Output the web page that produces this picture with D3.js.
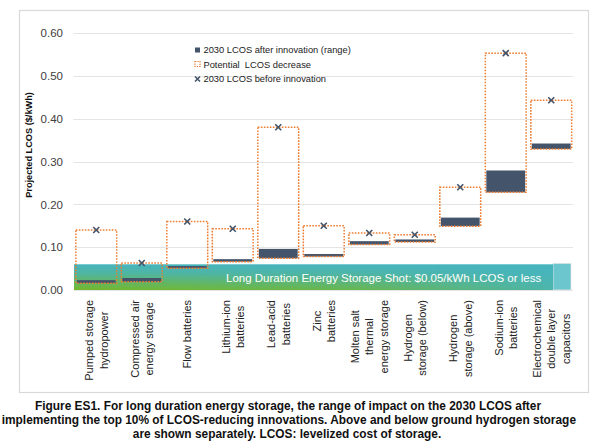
<!DOCTYPE html>
<html><head><meta charset="utf-8">
<script src="https://cdn.jsdelivr.net/npm/d3@7"></script>
<style>html,body{margin:0;padding:0;background:#fff;}svg{display:block;font-family:"Liberation Sans",Arial,sans-serif;}</style>
</head><body>
<svg id="c" width="600" height="441"></svg>
<script>
const categories = [
  ["Pumped storage","hydropower"],
  ["Compressed air","energy storage"],
  ["Flow batteries"],
  ["Lithium-ion","batteries"],
  ["Lead-acid","batteries"],
  ["Zinc","batteries"],
  ["Molten salt","thermal","energy storage"],
  ["Hydrogen","storage (below)"],
  ["Hydrogen","storage (above)"],
  ["Sodium-ion","batteries"],
  ["Electrochemical","double layer","capacitors"]
];
const beforeInnovation = [0.140, 0.063, 0.160, 0.143, 0.380, 0.150, 0.133, 0.129, 0.240, 0.553, 0.443];
const afterLow  = [0.016, 0.019, 0.051, 0.066, 0.074, 0.078, 0.106, 0.112, 0.149, 0.228, 0.329];
const afterHigh = [0.023, 0.028, 0.056, 0.072, 0.096, 0.084, 0.114, 0.118, 0.169, 0.279, 0.342];
const yTicks = [0, 0.1, 0.2, 0.3, 0.4, 0.5, 0.6];
const shotTarget = 0.06;
const legendLabels = ["2030 LCOS after innovation (range)", "Potential  LCOS decrease", "2030 LCOS before innovation"];
const captionLines = [
  "Figure ES1. For long duration energy storage, the range of impact on the 2030 LCOS after",
  "implementing the top 10% of LCOS-reducing innovations. Above and below ground hydrogen storage",
  "are shown separately. LCOS: levelized cost of storage."
];
const bandText = "Long Duration Energy Storage Shot: $0.05/kWh LCOS or less";

const DARK = "#44546a", ORANGE = "#ed7d31";
const svg = d3.select("#c");
const keys = categories.map((c,i)=>i);
const x = d3.scaleBand().domain(keys).range([73.5, 574]).paddingInner(0.08).paddingOuter(0.04);
const y = d3.scaleLinear().domain([0, 0.6]).range([290, 33]);

// frame
svg.append("rect").attr("x",19.5).attr("y",10.5).attr("width",569).attr("height",382)
  .attr("fill","#fff").attr("stroke","#d9d9d9").attr("stroke-width",1.2);

// gridlines
svg.append("g").selectAll("line").data(yTicks).join("line")
  .attr("x1",73.5).attr("x2",573).attr("y1",d=>Math.round(y(d))+0.5).attr("y2",d=>Math.round(y(d))+0.5)
  .attr("stroke","#e4e4e4").attr("stroke-width",1);

// y axis labels via axis
const yAxis = svg.append("g").attr("transform","translate(67,0)")
  .call(d3.axisLeft(y).tickValues(yTicks).tickFormat(d3.format(".2f")).tickSize(0));
yAxis.select(".domain").remove();
yAxis.selectAll("text").attr("font-size",11.5).attr("fill","#404040").attr("font-family","Liberation Sans, Arial").attr("dx",-1);

// y title
svg.append("text").attr("transform","translate(32,145) rotate(-90)").attr("text-anchor","middle")
  .attr("font-size",9.2).attr("font-weight","bold").attr("fill","#111").text("Projected LCOS ($/kWh)");

// band defs
const defs = svg.append("defs");
const gv = defs.append("linearGradient").attr("id","gv").attr("x1",0).attr("y1",0).attr("x2",0).attr("y2",1);
gv.append("stop").attr("offset","0").attr("stop-color","#000");
gv.append("stop").attr("offset","0.35").attr("stop-color","#333");
gv.append("stop").attr("offset","1").attr("stop-color","#fff");
const gh = defs.append("linearGradient").attr("id","gh").attr("x1",0).attr("y1",0).attr("x2",1).attr("y2",0);
gh.append("stop").attr("offset","0").attr("stop-color","#fff");
gh.append("stop").attr("offset","0.6").attr("stop-color","#bbb");
gh.append("stop").attr("offset","1").attr("stop-color","#222");
const bx0 = 74, bx1 = 553, by0 = y(shotTarget), by1 = y(0);
defs.append("mask").attr("id","mv").attr("maskUnits","userSpaceOnUse")
  .append("rect").attr("x",bx0).attr("y",by0).attr("width",bx1-bx0).attr("height",by1-by0).attr("fill","url(#gv)");
defs.append("mask").attr("id","mh").attr("maskUnits","userSpaceOnUse")
  .append("rect").attr("x",bx0).attr("y",by0).attr("width",bx1-bx0).attr("height",by1-by0).attr("fill","url(#gh)");

svg.append("rect").attr("x",bx1).attr("y",y(shotTarget)-1).attr("width",18).attr("height",by1-by0+1)
  .attr("fill","#6cc6cd").attr("stroke","#e6e6e6").attr("stroke-width",0.8);
svg.append("rect").attr("x",bx0).attr("y",by0).attr("width",bx1-bx0).attr("height",by1-by0).attr("fill","#47b5bf");
svg.append("g").attr("mask","url(#mh)").append("rect").attr("mask","url(#mv)")
  .attr("x",bx0).attr("y",by0).attr("width",bx1-bx0).attr("height",by1-by0).attr("fill","#74b72a");

// dark bars (after innovation range)
const bw = x.bandwidth();
svg.append("g").selectAll("rect").data(keys).join("rect")
  .attr("x",i=>x(i)+1.5).attr("width",bw-3)
  .attr("y",i=>y(afterHigh[i])).attr("height",i=>y(afterLow[i])-y(afterHigh[i]))
  .attr("fill",DARK);

// dotted boxes (potential decrease)
svg.append("g").selectAll("rect").data(keys).join("rect")
  .attr("x",i=>x(i)+0.5).attr("width",bw-1)
  .attr("y",i=>y(beforeInnovation[i])).attr("height",i=>y(afterLow[i])-y(beforeInnovation[i]))
  .attr("fill","none").attr("stroke",ORANGE).attr("stroke-width",1.5).attr("stroke-dasharray","1.6,1.4");

// X markers
const xm = (g, cx, cy, s) => {
  g.append("path").attr("d",`M${cx-s},${cy-s}L${cx+s},${cy+s}M${cx-s},${cy+s}L${cx+s},${cy-s}`)
    .attr("stroke",DARK).attr("stroke-width",1.6).attr("fill","none");
};
const mg = svg.append("g");
keys.forEach(i=>xm(mg, x(i)+bw/2, y(beforeInnovation[i]), 3));

// band text
svg.append("text").attr("x",226).attr("y",282).attr("font-size",11.5).attr("fill","#fff").text(bandText);

// x labels: lines centered within a block anchored at the top
const xl = svg.append("g");
keys.forEach(i=>{
  const lines = categories[i], n = lines.length, cx = x(i)+bw/2;
  const nodes = lines.map((t,j)=>{
    const lx = cx + (j-(n-1)/2)*14.5;
    return xl.append("text").attr("data-lx",lx)
      .attr("text-anchor","middle").attr("dominant-baseline","central")
      .attr("font-size",11).attr("fill","#222").text(t);
  });
  const maxLen = d3.max(nodes, s=>s.node().getComputedTextLength());
  const cy = 300 + maxLen/2;
  nodes.forEach(s=>s.attr("transform",`translate(${s.attr("data-lx")},${cy}) rotate(-90)`));
});

// legend
const lg = svg.append("g").attr("font-size",9.3).attr("fill","#222");
lg.append("rect").attr("x",195).attr("y",47.5).attr("width",5).attr("height",5).attr("fill",DARK);
lg.append("rect").attr("x",195).attr("y",61.5).attr("width",5).attr("height",5).attr("fill","none")
  .attr("stroke",ORANGE).attr("stroke-width",1.2).attr("stroke-dasharray","1.3,1.1");
xm(lg, 197.5, 79, 2.5);
legendLabels.forEach((t,k)=>{
  lg.append("text").attr("x",203.5).attr("y",50+k*14.5).attr("dominant-baseline","central")
    .style("white-space","pre").text(t);
});

// caption
const cap = svg.append("g").attr("font-size",11.9).attr("font-weight","bold").attr("fill","#111");
cap.append("text").attr("x",288).attr("y",409.5).attr("text-anchor","middle").text(captionLines[0]);
cap.append("text").attr("x",576).attr("y",424).attr("text-anchor","end").text(captionLines[1]);
cap.append("text").attr("x",287).attr("y",437.5).attr("text-anchor","middle").text(captionLines[2]);
</script>
</body></html>
